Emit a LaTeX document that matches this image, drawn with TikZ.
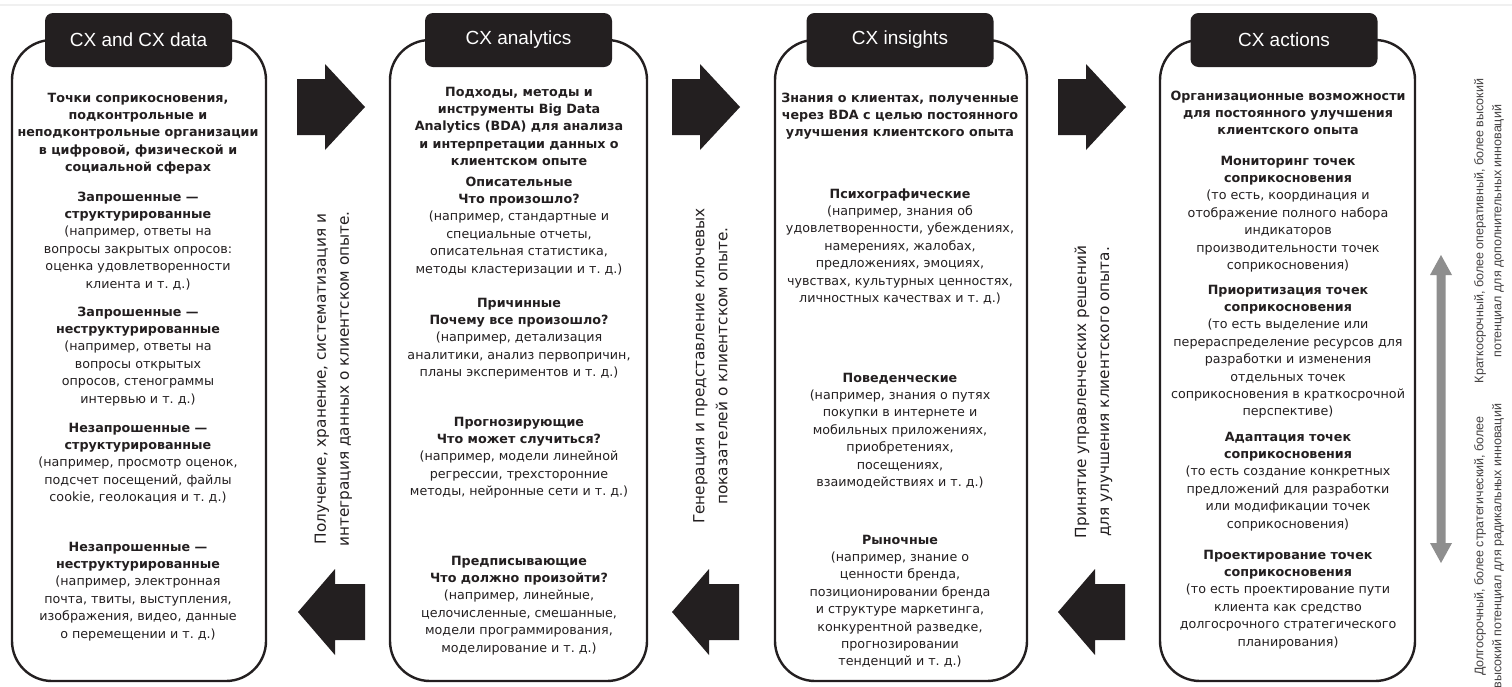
\documentclass[tikz,border=0pt]{standalone}
\usepackage{fontspec}
\setmainfont{DejaVu Sans}
\newfontfamily\hdrfont{Liberation Sans}
\newfontfamily\sidefont{Liberation Sans}
\definecolor{ink}{HTML}{231F20}
\definecolor{grayarr}{HTML}{8E8E8E}
\newcommand\blkat[4]{\node[blk] (#1) at (#2,#3-8.2) {\strut #4};}
\begin{document}
\frenchspacing
\begin{tikzpicture}[x=1pt,y=-1pt,
  colbody/.style={draw=ink, line width=2.4pt, rounded corners=40pt, fill=white, inner sep=0pt},
  tab/.style={fill=ink, rounded corners=8pt, inner sep=0pt, minimum width=187pt, minimum height=54pt,
    text=white, font=\hdrfont\fontsize{19}{22}\selectfont},
  blk/.style={align=center, anchor=north, inner sep=0pt, text=ink, font=\fontsize{12.7}{17.4}\selectfont},
  flow/.style={align=center, rotate=90, inner sep=0pt, text=ink, font=\fontsize{15.3}{23}\selectfont},
  side/.style={align=center, rotate=90, inner sep=0pt, text=ink!85, font=\sidefont\fontsize{12.5}{18}\selectfont},
  rarr/.pic={\fill[ink] (0,-28) -- (28,-28) -- (28,-43) -- (68,0) -- (28,43) -- (28,28) -- (0,28) -- cycle;},
  larr/.pic={\fill[ink] (0,0) -- (37,-43) -- (37,-28) -- (67,-28) -- (67,28) -- (37,28) -- (37,43) -- cycle;}
]
\fill[white] (0,0) rectangle (1512,686);
\useasboundingbox (0,0) rectangle (1512,686);
\draw[gray!12, line width=1.2pt] (0,5) -- (1512,5);

% column bodies
\node[colbody, minimum width=254pt, minimum height=641pt] (c1) at (139,360.5) {};
\node[colbody, minimum width=257pt, minimum height=641pt] (c2) at (518.5,360.5) {};
\node[colbody, minimum width=252pt, minimum height=641pt] (c3) at (901,360.5) {};
\node[colbody, minimum width=255pt, minimum height=641pt] (c4) at (1287.5,360.5) {};

% tabs
\node[tab] (h1) at (138.5,40) {CX and CX data};
\node[tab] (h2) at (518.5,40) {CX analytics};
\node[tab] (h3) at (900,40) {CX insights};
\node[tab] (h4) at (1284,40) {CX actions};

% column 1
\blkat{a1}{138}{98}{\textbf{Точки соприкосновения,}\\\textbf{подконтрольные и}\\\textbf{неподконтрольные организации}\\\textbf{в цифровой, физической и}\\\textbf{социальной сферах}}
\blkat{a2}{138}{197}{\textbf{Запрошенные —}\\\textbf{структурированные}\\(например, ответы на\\вопросы закрытых опросов:\\оценка удовлетворенности\\клиента и т. д.)}
\blkat{a3}{138}{312}{\textbf{Запрошенные —}\\\textbf{неструктурированные}\\(например, ответы на\\вопросы открытых\\опросов, стенограммы\\интервью и т. д.)}
\blkat{a4}{138}{428}{\textbf{Незапрошенные —}\\\textbf{структурированные}\\(например, просмотр оценок,\\подсчет посещений, файлы\\cookie, геолокация и т. д.)}
\blkat{a5}{138}{547}{\textbf{Незапрошенные —}\\\textbf{неструктурированные}\\(например, электронная\\почта, твиты, выступления,\\изображения, видео, данные\\о перемещении и т. д.)}

% column 2
\blkat{b1}{519}{92}{\textbf{Подходы, методы и}\\\textbf{инструменты Big Data}\\\textbf{Analytics (BDA) для анализа}\\\textbf{и интерпретации данных о}\\\textbf{клиентском опыте}}
\blkat{b2}{519}{182}{\textbf{Описательные}\\\textbf{Что произошло?}\\(например, стандартные и\\специальные отчеты,\\описательная статистика,\\методы кластеризации и т. д.)}
\blkat{b3}{519}{303}{\textbf{Причинные}\\\textbf{Почему все произошло?}\\(например, детализация\\аналитики, анализ первопричин,\\планы экспериментов и т. д.)}
\blkat{b4}{519}{422}{\textbf{Прогнозирующие}\\\textbf{Что может случиться?}\\(например, модели линейной\\регрессии, трехсторонние\\методы, нейронные сети и т. д.)}
\blkat{b5}{519}{561}{\textbf{Предписывающие}\\\textbf{Что должно произойти?}\\(например, линейные,\\целочисленные, смешанные,\\модели программирования,\\моделирование и т. д.)}

% column 3
\blkat{d1}{900}{98}{\textbf{Знания о клиентах, полученные}\\\textbf{через BDA с целью постоянного}\\\textbf{улучшения клиентского опыта}}
\blkat{d2}{900}{194}{\textbf{Психографические}\\(например, знания об\\удовлетворенности, убеждениях,\\намерениях, жалобах,\\предложениях, эмоциях,\\чувствах, культурных ценностях,\\личностных качествах и т. д.)}
\blkat{d3}{900}{378}{\textbf{Поведенческие}\\(например, знания о путях\\покупки в интернете и\\мобильных приложениях,\\приобретениях,\\посещениях,\\взаимодействиях и т. д.)}
\blkat{d4}{900}{540}{\textbf{Рыночные}\\(например, знание о\\ценности бренда,\\позиционировании бренда\\и структуре маркетинга,\\конкурентной разведке,\\прогнозировании\\тенденций и т. д.)}

% column 4
\blkat{e1}{1288}{96}{\textbf{Организационные возможности}\\\textbf{для постоянного улучшения}\\\textbf{клиентского опыта}}
\blkat{e2}{1288}{161}{\textbf{Мониторинг точек}\\\textbf{соприкосновения}\\(то есть, координация и\\отображение полного набора\\индикаторов\\производительности точек\\соприкосновения)}
\blkat{e3}{1288}{290}{\textbf{Приоритизация точек}\\\textbf{соприкосновения}\\(то есть выделение или\\перераспределение ресурсов для\\разработки и изменения\\отдельных точек\\соприкосновения в краткосрочной\\перспективе)}
\blkat{e4}{1288}{437}{\textbf{Адаптация точек}\\\textbf{соприкосновения}\\(то есть создание конкретных\\предложений для разработки\\или модификации точек\\соприкосновения)}
\blkat{e5}{1288}{555}{\textbf{Проектирование точек}\\\textbf{соприкосновения}\\(то есть проектирование пути\\клиента как средство\\долгосрочного стратегического\\планирования)}

% block arrows
\pic at (297,107) {rarr};
\pic at (672,107) {rarr};
\pic at (1058,107) {rarr};
\pic at (298,612) {larr};
\pic at (672,612) {larr};
\pic at (1058,612) {larr};

% flow texts
\node[flow] (f1) at (333.5,379) {Получение, хранение, систематизация и\\интеграция данных о клиентском опыте.};
\node[flow] (f2) at (710.5,366) {Генерация и представление ключевых\\показателей о клиентском опыте.};
\node[flow] (f3) at (1093.5,392) {Принятие управленческих решений\\для улучшения клиентского опыта.};

% gray double arrow
\fill[grayarr] (1441,255) -- (1452,275) -- (1445.5,275) -- (1445.5,543) -- (1452,543) -- (1441,563)
  -- (1430,543) -- (1436.5,543) -- (1436.5,275) -- (1430,275) -- cycle;

% side texts
\node[side] (s1) at (1489,231) {Краткосрочный, более оперативный, более высокий\\потенциал для дополнительных инноваций};
\node[side] (s2) at (1489,546) {Долгосрочный, более стратегический, более\\высокий потенциал для радикальных инноваций};
\end{tikzpicture}
\end{document}
